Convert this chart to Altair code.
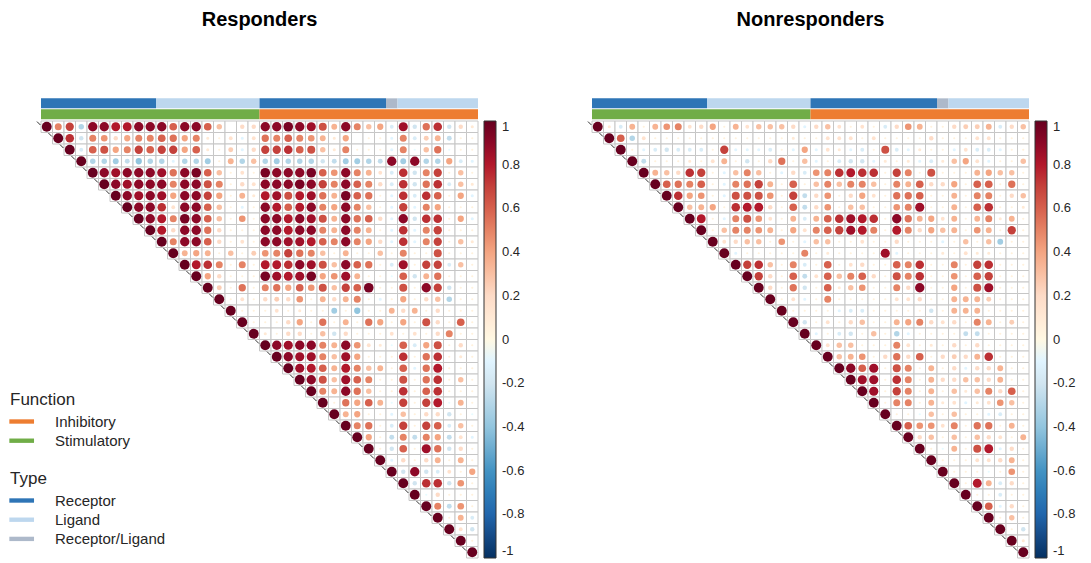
import altair as alt
import pandas as pd

N = 38
FONT = "Liberation Sans"
TXT = "#262626"

# ---- column annotations ----
col_type = (["Receptor"] * 10 + ["Ligand"] * 9 + ["Receptor"] * 11
            + ["Receptor/Ligand"] + ["Ligand"] * 7)
col_function = ["Stimulatory"] * 19 + ["Inhibitory"] * 19

type_domain = ["Receptor", "Ligand", "Receptor/Ligand"]
type_colors = ["#2E75B6", "#BDD7EE", "#ADB9CA"]
func_domain = ["Inhibitory", "Stimulatory"]
func_colors = ["#ED7D31", "#70AD47"]

rdbu_domain = [-1, -0.8, -0.6, -0.4, -0.2, 0, 0.2, 0.4, 0.6, 0.8, 1]
rdbu_colors = ["#053061", "#2166AC", "#4393C3", "#92C5DE", "#D1E5F0", "#FFFFFF",
               "#FDDBC7", "#F4A582", "#D6604D", "#B2182B", "#67001F"]
bar_ticks = [-1, -0.8, -0.6, -0.4, -0.2, 0, 0.2, 0.4, 0.6, 0.8, 1]

# ---- correlations: row i lists columns i+1 .. 37 (diagonal = 1) ----
resp_rows = [
    [.5, .7, -.3, .9, .9, .8, .8, .9, .9, .9, .6, .9, .9, .6, .3, 0, .2, .2,
     .9, .9, .95, .9, .85, .65, .35, .9, .5, .3, .4, -.15, .85, -.2, .55, .75, -.2, .2, .1],
    [.75, -.2, .5, .45, .2, .4, .5, .5, .6, .55, .4, .5, .1, .05, .15, -.1, .15,
     .55, .5, .6, .5, .45, .35, .1, .4, 0, .05, .05, -.1, .5, -.15, .25, .35, -.25, .05, .05],
    [-.15, .6, .65, .4, .5, .7, .6, .7, .7, .4, .6, .1, .05, .25, -.1, .2,
     .7, .7, .75, .6, .65, .3, .1, .5, .05, .05, .05, -.1, .5, -.05, .3, .55, -.05, .05, .05],
    [-.3, -.3, -.35, -.25, -.4, -.3, -.3, -.1, -.3, -.3, -.35, .05, .35, -.3, .3,
     -.3, -.35, -.3, -.3, -.3, -.2, -.25, -.35, -.35, -.3, -.25, .9, -.35, .9, -.3, -.3, .4, -.15, -.1],
    [.9, .85, .9, .9, .9, .85, .55, .9, .95, .6, .3, .05, .15, .05,
     .95, .9, .9, .9, .95, .6, .45, .9, .5, .35, .15, -.15, .75, -.2, .5, .7, .05, .3, .05],
    [.9, .85, .9, .9, .9, .5, .9, .9, .65, .5, .05, .2, .15,
     .9, .9, .9, .95, .9, .7, .5, .9, .6, .5, .2, -.15, .75, -.2, .55, .75, -.15, .3, .1],
    [.9, .85, .9, .85, .4, .9, .9, .7, .4, .05, .35, .1,
     .8, .85, .65, .8, .85, .55, .35, .95, .6, .55, .05, -.1, .75, -.15, .75, .6, .05, .4, -.1],
    [.9, .9, .75, .15, .9, .9, .6, .3, .05, -.1, .05,
     .9, .8, .6, .8, .9, .5, .4, .9, .5, .3, .05, -.1, .7, -.1, .5, .4, .05, .05, .05],
    [.9, .8, .5, .95, .9, .6, .3, .05, .45, .05,
     .9, .9, .8, .9, .85, .65, .35, .9, .55, .6, .2, -.1, .9, -.2, .75, .75, .05, .4, -.1],
    [.8, .2, .9, .9, .55, .2, .05, .05, .05,
     .9, .9, .8, .9, .9, .5, .35, .9, .5, .35, .05, -.1, .75, -.1, .5, .7, .05, .05, .05],
    [.5, .9, .9, .6, .2, .05, .15, .05,
     .9, .9, .85, .85, .8, .6, .5, .9, .5, .4, .2, -.1, .75, -.1, .5, .7, .05, .3, .1],
    [.35, .4, .35, .05, .3, .05, .25,
     .45, .5, .7, .55, .5, .3, .05, .35, .05, .05, .3, .05, .5, .05, .05, .65, .05, .05, .05],
    [.8, .75, .5, .05, .5, .05,
     .8, .8, .75, .9, .85, .65, .3, .9, .6, .55, .05, -.15, .85, .05, .7, .7, -.15, .3, .05],
    [.4, .2, .05, .05, .05,
     .95, .85, .8, .85, .95, .4, .45, .85, .35, .05, .05, -.05, .6, -.2, .35, .55, .05, .05, .05],
    [.25, .05, .55, .05,
     .5, .55, .4, .6, .45, .65, .3, .7, .6, .95, .05, .05, .65, .05, .9, .7, -.2, .05, .05],
    [.05, .15, .05,
     .2, .25, .2, .45, .05, .35, .2, .35, .5, .05, -.1, .05, .4, .05, .2, .3, -.3, .05, .05],
    [.05, .05,
     .05, .15, .05, .1, .05, .05, -.35, .05, -.4, .05, .05, .35, .2, .35, .05, .2, .05, .05, .05],
    [.05,
     .05, .05, .2, .4, .05, .55, .05, .35, .05, .55, .4, .05, .4, .05, .65, .2, .05, .6, .05],
    [.1, .05, .2, .2, .05, .3, -.2, .2, .05, .05, .05, .15, .05, .15, .05, .2, .5, .05, .05],
    [.9, .85, .9, .9, .5, .35, .9, .45, .15, .1, -.05, .6, -.15, .4, .65, .05, .2, .05],
    [.9, .85, .85, .5, .3, .85, .4, .05, .05, .05, .75, .05, .55, .75, .05, .1, .05],
    [.85, .8, .6, .35, .8, .5, .3, .35, .05, .6, -.1, .55, .8, .05, .05, .05],
    [.9, .65, .3, .85, .6, .5, .05, .05, .65, .05, .55, .75, .05, .3, .05],
    [.5, .35, .9, .55, .3, .05, .05, .75, .05, .6, .75, .05, .05, .05],
    [.05, .55, .4, .6, .35, -.05, .7, .05, .7, .8, -.05, .35, .05],
    [.35, .4, .05, .05, -.1, .3, .05, .2, .2, -.2, .05, -.05],
    [.5, .55, .05, -.15, .7, .05, .7, .6, -.15, .3, .05],
    [.4, .05, -.25, .5, -.25, .5, .4, -.25, .15, -.1],
    [.05, -.2, .6, .05, .85, .55, -.2, .2, .05],
    [-.1, .2, .05, .2, .35, .05, .35, .05],
    [-.2, .9, -.2, -.15, .15, .05, .4],
    [-.2, .75, .75, -.2, .45, .05],
    [-.05, .2, .05, .05, .05],
    [.5, -.25, .45, .05],
    [.05, .35, -.15],
    [.15, -.2],
    [.05],
]

nonresp_rows = [
    [.1, -.15, .35, .05, .35, .45, .5, .15, .2, .4, .05, .35, .15, .3, .3, .3, .2, -.1,
     .2, .3, .15, .05, .15, .05, -.15, .2, .45, .35, .05, .05, .2, .25, .25, .35, -.15, .2, .3],
    [.6, -.3, .15, .05, .05, .05, .05, .05, .05, .05, .05, .05, .05, .05, .05, .1, .05,
     .05, .15, .15, .15, .05, .15, .05, .05, .05, .05, .2, .05, .05, .05, .15, .15, .05, .05, .05],
    [.05, -.1, -.15, -.2, -.15, -.15, -.15, .05, .7, -.1, -.1, -.1, -.15, .05, -.1, .4,
     -.1, .15, .1, -.1, -.15, .05, .65, -.15, -.1, .1, .05, .05, -.1, .15, -.15, -.15, -.1, .05, .05],
    [-.25, .05, .05, .05, .1, .05, .15, .35, .05, -.2, .05, .2, .55, .05, .3,
     -.1, .05, -.15, -.2, -.2, -.1, .1, .05, .1, -.1, -.15, .1, .3, .4, .15, -.1, .05, .05, .3],
    [.35, .3, .2, .75, .7, .05, -.1, .3, .5, .3, .05, -.1, .2, -.15,
     .45, .5, .75, .8, .75, .75, .05, .7, .5, .05, .65, .05, .05, .05, .35, .4, .3, .3, .05],
    [.6, .55, .5, .6, .05, -.1, .5, .55, .7, .35, .05, .6, .05,
     .3, .5, .3, .5, .5, .3, .05, .5, .35, .6, .2, .2, .4, .05, .6, .6, .05, .55, .05],
    [.75, .4, .45, .05, -.1, .65, .65, .65, .45, .05, .7, -.25,
     .2, .45, .05, .2, .4, .15, .05, .55, .55, .6, .05, .05, .35, .05, .5, .5, .05, .2, .3],
    [.3, .35, .4, .05, .75, .8, .8, .2, .05, .6, -.25,
     .2, .45, .05, .3, .3, .05, .05, .45, .5, .85, .05, .05, .35, .05, .6, .75, .05, .05, .1],
    [.8, .05, -.1, .5, .65, .45, .15, .05, .35, -.15,
     .35, .6, .75, .85, .8, .75, .05, .9, .55, .35, .4, .15, .35, .05, .35, .5, .1, .35, .05],
    [.05, .3, .5, .5, .45, .35, .05, .4, .15,
     .5, .6, .7, .85, .8, .5, .05, .8, .5, .2, .4, .3, .35, .05, .45, .35, .05, .7, .05],
    [.15, .2, .3, .3, .05, .45, .05, -.1,
     .3, .3, .05, .05, .15, .05, .05, .2, .05, .05, .05, -.1, .05, .3, .05, .3, -.35, .05, .05],
    [-.1, .05, .05, .05, .05, .05, .5,
     .05, .1, .05, .05, .05, .05, .85, -.1, .05, .05, .05, .1, .05, .15, .1, .1, .05, .05, .05],
    [.7, .75, .3, .05, .5, -.15,
     .05, .6, .05, .15, .2, .05, .05, .6, .5, .75, .05, .05, .5, .05, .7, .75, .05, .05, .05],
    [.7, .2, .05, .6, -.25,
     .15, .6, .3, .5, .6, .2, .05, .65, .5, .75, .05, .05, .45, .05, .6, .7, .05, .05, .05],
    [.2, .05, .55, -.2,
     .05, .6, .1, .3, .45, .05, .05, .5, .2, .9, .05, .05, .4, .05, .65, .85, .05, .05, .05],
    [.05, .15, -.1,
     .05, .5, .05, .05, .05, .05, .05, .15, .15, .2, .05, .05, .35, .35, .35, .25, .05, .05, .05],
    [.05, .05,
     .05, .05, -.1, -.15, -.15, .05, .05, .05, .05, .05, -.2, .05, .35, .35, .35, .05, .05, .05, .05],
    [-.2,
     .05, .15, .05, .2, .3, .05, .05, .35, .4, .5, .2, .15, .2, .05, .5, .35, .05, .25, .05],
    [-.1, .05, -.15, -.2, .05, .3, .05, -.3, -.1, .05, .05, .05, .05, -.25, -.25, .05, .05, .05, .05],
    [.15, .3, .3, .05, .05, .05, .5, .15, .05, .1, .05, .2, .05, .2, .05, .05, .05, .05],
    [.3, .35, .45, .05, .2, .55, .2, .6, .05, .2, .25, .2, .35, .75, .05, .05, .05],
    [.9, .6, .85, .05, .65, .5, .05, .35, .05, .2, -.1, .2, .2, .35, .05, .05],
    [.85, .85, .05, .75, .5, .05, .35, .2, .2, .3, .3, .2, .35, .05, .05],
    [.85, .05, .7, .5, .05, .35, .05, .3, .1, .3, .5, .2, .6, .05],
    [.05, .5, .5, .05, .35, .1, .15, -.1, .1, .15, .45, .3, .05],
    [.05, .05, -.05, .3, .05, .3, .05, .05, -.1, -.15, .05, .05],
    [.6, .45, .45, .15, .5, .05, .55, .55, .05, .35, .05],
    [.2, .3, .05, .3, .05, .3, .2, .15, .05, .35],
    [.05, -.05, .35, .05, .65, .8, -.1, .2, .05],
    [.05, .05, .05, .15, .15, .2, .35, .05],
    [.05, .05, .05, -.05, .05, .45, .05],
    [.05, .8, .35, -.15, .2, .05],
    [.05, .05, -.15, .05, .05],
    [.6, -.1, .2, .05],
    [.05, .3, .05],
    [.05, -.2],
    [.1],
]


def cell_table(rows):
    recs = []
    for i in range(N):
        recs.append({"row": i, "col": i, "r": 1.0})
        vals = rows[i] if i < len(rows) else []
        for k, v in enumerate(vals):
            recs.append({"row": i, "col": i + 1 + k, "r": v})
    return pd.DataFrame(recs)


def runs(labels):
    """Contiguous runs of equal labels -> (start, end, label)."""
    out = []
    start = 0
    for j in range(1, len(labels) + 1):
        if j == len(labels) or labels[j] != labels[start]:
            out.append({"c1": start, "c2": j, "label": labels[start]})
            start = j
    return pd.DataFrame(out)


type_runs = runs(col_type)
func_runs = runs(col_function)

XS = alt.Scale(domain=[0, N], nice=False, zero=False)
YS = alt.Scale(domain=[-2, N], nice=False, zero=False, reverse=True)
STRIPE = "M-1.07,-0.23H1.53V0.23H-1.07Z"


def panel(rows, title, with_legend):
    df = cell_table(rows)
    base = alt.Chart(df)

    grid = base.mark_rect(fill="white", stroke="#c6c6c6", strokeWidth=1).transform_calculate(
        c2="datum.col + 1", r2="datum.row + 1"
    ).encode(
        x=alt.X("col:Q", scale=XS, axis=None),
        x2="c2:Q",
        y=alt.Y("row:Q", scale=YS, axis=None),
        y2="r2:Q",
    )

    dashes = base.transform_filter("datum.row == datum.col").transform_calculate(
        dx1="datum.col - 0.35", dx2="datum.col - 0.05",
        dy1="datum.row + 0.05", dy2="datum.row + 0.35",
    ).mark_rule(color="#333333", strokeWidth=1).encode(
        x=alt.X("dx1:Q", scale=XS, axis=None), x2="dx2:Q",
        y=alt.Y("dy1:Q", scale=YS, axis=None), y2="dy2:Q",
    )

    bar_legend = alt.Legend(
        orient="none", legendX=443, legendY=23, direction="vertical",
        gradientLength=437, gradientThickness=12, title=None,
        values=bar_ticks, labelExpr="toString(round(datum.value * 10) / 10)",
        labelFont=FONT, labelFontSize=13, labelColor=TXT, labelOffset=6,
        labelBaseline="middle", labelOverlap=False,
        gradientStrokeColor="#333333", gradientStrokeWidth=1,
    )

    circles = base.mark_circle(opacity=1).transform_calculate(
        cx="datum.col + 0.5", cy="datum.row + 0.5", a="abs(datum.r)"
    ).encode(
        x=alt.X("cx:Q", scale=XS, axis=None),
        y=alt.Y("cy:Q", scale=YS, axis=None),
        size=alt.Size("a:Q", scale=alt.Scale(domain=[0, 1], range=[0, 98]), legend=None),
        color=alt.Color("r:Q", scale=alt.Scale(domain=rdbu_domain, range=rdbu_colors),
                        legend=bar_legend),
    )

    def cat_legend(t, ly):
        return alt.Legend(
            orient="none", legendX=-31, legendY=ly, title=t,
            titleFont=FONT, titleFontSize=17, titleFontWeight="normal", titleColor=TXT,
            titlePadding=3, labelFont=FONT, labelFontSize=15, labelColor=TXT,
            symbolType=STRIPE, symbolSize=361, symbolStrokeWidth=0, symbolOpacity=1,
            labelOffset=26, rowPadding=1.2,
        )

    type_enc = alt.Color("label:N", scale=alt.Scale(domain=type_domain, range=type_colors),
                         legend=cat_legend("Type", 373) if with_legend else None)
    func_enc = alt.Color("label:N", scale=alt.Scale(domain=func_domain, range=func_colors),
                         legend=cat_legend("Function", 294) if with_legend else None)

    typebar = alt.Chart(type_runs).transform_calculate(t1="-1.97", t2="-1.1").mark_rect().encode(
        x=alt.X("c1:Q", scale=XS, axis=None), x2="c2:Q",
        y=alt.Y("t1:Q", scale=YS, axis=None), y2="t2:Q",
        color=type_enc,
    )
    funcbar = alt.Chart(func_runs).transform_calculate(f1="-1.02", f2="-0.15").mark_rect().encode(
        x=alt.X("c1:Q", scale=XS, axis=None), x2="c2:Q",
        y=alt.Y("f1:Q", scale=YS, axis=None), y2="f2:Q",
        color=func_enc,
    )

    return alt.layer(grid, dashes, circles, typebar, funcbar).resolve_scale(
        color="independent"
    ).properties(
        width=437, height=460,
        title=alt.TitleParams(title, font=FONT, fontSize=20, fontWeight="bold",
                              color="black", anchor="middle", offset=68),
    )


left = panel(resp_rows, "Responders", True)
right = panel(nonresp_rows, "Nonresponders", False)

chart = alt.hconcat(left, right, spacing=114, bounds="flush").properties(
    padding={"left": 2, "top": 2, "right": 2, "bottom": 2}
).configure_view(stroke=None)

chart.save("out.html", embed_options={"renderer": "svg", "actions": False})
